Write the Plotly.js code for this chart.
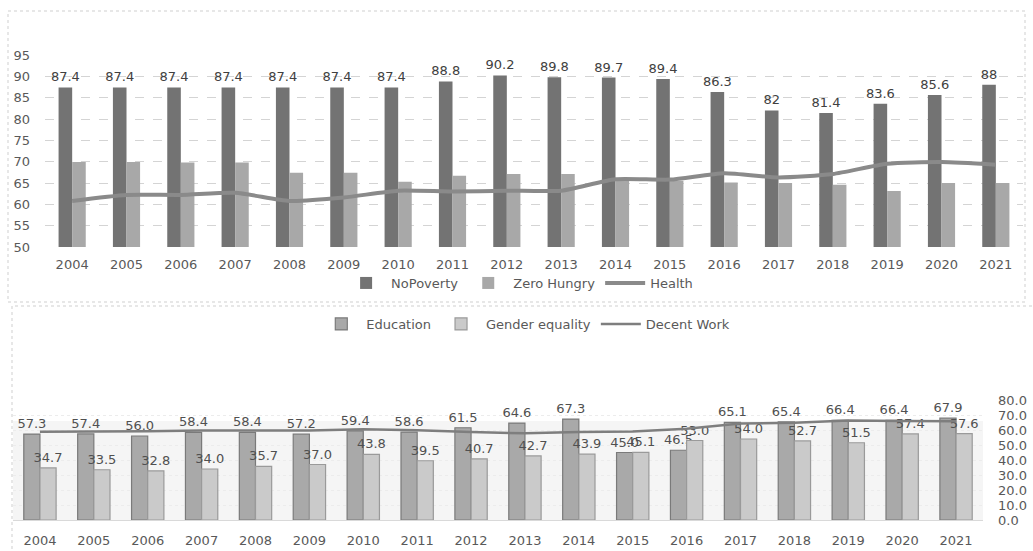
<!DOCTYPE html>
<html>
<head>
<meta charset="utf-8">
<script src="https://cdn.plot.ly/plotly-3.0.1.min.js"></script>
<style>html,body{margin:0;padding:0;background:#fff;}#chart{width:1033px;height:551px;}</style>
</head>
<body>
<div id="chart"></div>
<script>
// ---- data ----
var years = ['2004','2005','2006','2007','2008','2009','2010','2011','2012','2013','2014','2015','2016','2017','2018','2019','2020','2021'];
var noPoverty = [87.4,87.4,87.4,87.4,87.4,87.4,87.4,88.8,90.2,89.8,89.7,89.4,86.3,82,81.4,83.6,85.6,88];
var zeroHungry = [69.9,69.9,69.8,69.8,67.4,67.4,65.3,66.7,67.1,67.1,65.6,65.5,65.1,65.0,64.6,63.1,65.0,65.0];
var health = [60.8,62.2,62.2,62.7,60.8,61.6,63.2,63.0,63.2,63.2,65.9,65.8,67.3,66.3,67.1,69.5,69.9,69.3];
var education = [57.3,57.4,56.0,58.4,58.4,57.2,59.4,58.6,61.5,64.6,67.3,45.0,46.5,65.1,65.4,66.4,66.4,67.9];
var gender = [34.7,33.5,32.8,34.0,35.7,37.0,43.8,39.5,40.7,42.7,43.9,45.1,53.0,54.0,52.7,51.5,57.4,57.6];
var decentWork = [58.8,58.8,59.2,59.6,59.6,59.6,60.5,59.9,58.6,57.8,58.6,59.0,60.8,64.3,64.9,66.4,66.0,65.8];

var W = 1033, H = 551;
function px(x){return x/W;}
function py(y){return 1 - y/H;}
var FONT = 'DejaVu Sans, Verdana, sans-serif';
var topW = 0.25, botW = 0.3;

var traces = [
  {type:'bar', name:'NoPoverty', x:years, y:noPoverty, xaxis:'x', yaxis:'y',
   width:topW, offset:-topW,
   marker:{color:'#737373'}, text:noPoverty.map(String), textposition:'outside',
   constraintext:'none', cliponaxis:false, textfont:{size:13,color:'#404040',family:FONT},
   legend:'legend', hoverinfo:'skip'},
  {type:'bar', name:'Zero Hungry', x:years, y:zeroHungry, xaxis:'x', yaxis:'y',
   width:topW, offset:0,
   marker:{color:'#a8a8a8'}, legend:'legend', hoverinfo:'skip'},
  {type:'scatter', mode:'lines', name:'Health', x:years, y:health, xaxis:'x', yaxis:'y',
   line:{color:'#8a8a8a', width:4, shape:'spline', smoothing:0.6}, legend:'legend', hoverinfo:'skip'},

  {type:'bar', name:'Education', x:years, y:education, xaxis:'x2', yaxis:'y2',
   width:botW, offset:-botW,
   marker:{color:'#a9a9a9', line:{color:'#7a7a7a', width:1.2}},
   text:education.map(function(v){return v.toFixed(1);}), textposition:'outside',
   constraintext:'none', cliponaxis:false, textfont:{size:13,color:'#505050',family:FONT},
   legend:'legend2', hoverinfo:'skip'},
  {type:'bar', name:'Gender equality', x:years, y:gender, xaxis:'x2', yaxis:'y2',
   width:botW, offset:0,
   marker:{color:'#cacaca', line:{color:'#9a9a9a', width:1.2}},
   text:gender.map(function(v){return v.toFixed(1);}), textposition:'outside',
   constraintext:'none', cliponaxis:false, textfont:{size:13,color:'#505050',family:FONT},
   legend:'legend2', hoverinfo:'skip'},
  {type:'scatter', mode:'lines', name:'Decent Work', x:years, y:decentWork, xaxis:'x2', yaxis:'y2',
   line:{color:'#7e7e7e', width:2.5}, legend:'legend2', hoverinfo:'skip'}
];

var layout = {
  width:W, height:H,
  margin:{l:0,r:0,t:0,b:0},
  paper_bgcolor:'#ffffff', plot_bgcolor:'rgba(0,0,0,0)',
  font:{family:FONT, size:13, color:'#595959'},
  barmode:'group',
  showlegend:true,
  xaxis:{domain:[px(45),px(1023)], anchor:'y', type:'category', showgrid:false, showline:false,
         ticks:'', ticklabelstandoff:8, tickfont:{size:13,color:'#595959'}, fixedrange:true},
  yaxis:{domain:[py(247),py(55)], anchor:'x', range:[50,95], dtick:5, tick0:50,
         showgrid:true, gridcolor:'#d4d4d4', griddash:'dash', gridwidth:1, zeroline:false,
         showline:false, ticks:'', ticklabelstandoff:14, tickfont:{size:13,color:'#595959'}, fixedrange:true},
  xaxis2:{domain:[px(13),px(983)], anchor:'y2', type:'category', showgrid:false,
          showline:true, linecolor:'#d9d9d9', linewidth:1,
          ticks:'', ticklabelstandoff:8, tickfont:{size:13,color:'#595959'}, fixedrange:true},
  yaxis2:{domain:[py(520),py(400)], anchor:'x2', side:'right', range:[0,80], dtick:10, tick0:0,
          tickformat:'.1f', showgrid:true, gridcolor:'#ececec', griddash:'dot', zeroline:false,
          showline:false, ticks:'', ticklabelstandoff:14, tickfont:{size:13,color:'#595959'}, fixedrange:true},
  legend:{orientation:'h', x:0.503, xanchor:'center', y:py(283), yanchor:'middle',
          font:{size:13,color:'#595959',family:FONT}, bgcolor:'rgba(0,0,0,0)', itemwidth:40},
  legend2:{orientation:'h', x:0.509, xanchor:'center', y:py(324), yanchor:'middle',
          font:{size:13,color:'#595959',family:FONT}, bgcolor:'rgba(0,0,0,0)', itemwidth:40},
  shapes:[
    {type:'rect', xref:'paper', yref:'paper', x0:px(8), x1:px(1025), y0:py(302), y1:py(11),
     line:{color:'#cfcfcf', width:1, dash:'dot'}, fillcolor:'rgba(0,0,0,0)', layer:'below'},
    {type:'rect', xref:'paper', yref:'paper', x0:px(12), x1:px(1040), y0:py(560), y1:py(306),
     line:{color:'#cfcfcf', width:1, dash:'dot'}, fillcolor:'rgba(0,0,0,0)', layer:'below'},
    {type:'rect', xref:'x2 domain', yref:'y2', x0:0, x1:1, y0:0, y1:66,
     line:{width:0}, fillcolor:'#f5f5f5', layer:'below'}
  ]
};

Plotly.newPlot('chart', traces, layout, {staticPlot:true, displayModeBar:false});
</script>
</body>
</html>
